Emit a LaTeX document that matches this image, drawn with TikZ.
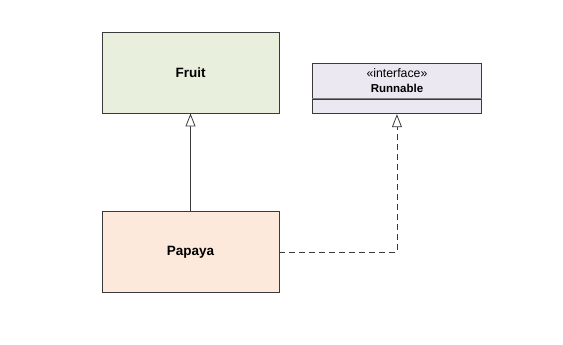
\documentclass[tikz,border=0pt]{standalone}
\usepackage{fontspec}
\setmainfont{Liberation Sans}
\usetikzlibrary{positioning,arrows.meta}

\definecolor{fruitfill}{HTML}{E9EFDD}
\definecolor{papayafill}{HTML}{FCE9DC}
\definecolor{ifacefill}{HTML}{EBE8F1}
\definecolor{umlline}{HTML}{3A3A3A}

\begin{document}
\begin{tikzpicture}[
  x=1pt, y=-1pt,
  cls/.style={draw=umlline,line width=0.9pt,minimum width=177pt,minimum height=81pt,
    font=\fontsize{13.5}{16}\selectfont\bfseries,inner sep=0pt},
  iface/.style={draw=umlline,line width=0.9pt,fill=ifacefill,minimum width=169pt,inner sep=0pt,align=center},
  realize/.style={umlline,line width=0.8pt,dash pattern=on 6pt off 4pt,
    -{Triangle[open,length=13pt,width=10pt,fill=white]}},
  inherit/.style={umlline,line width=0.8pt,-{Triangle[open,length=13pt,width=10pt,fill=white]}},
]
\useasboundingbox (0,0) rectangle (563,345);

% --- classes ---
\node[cls,fill=fruitfill] (fruit) at (190.5,72.5) {Fruit};
\node[cls,fill=papayafill,below=98pt of fruit] (papaya) {Papaya};

% --- interface: name + empty compartment ---
\node[iface,minimum height=34.5pt,anchor=north west] (runnable) at (312,63.3)
  {{\fontsize{12.3}{13}\selectfont «interface»}\\[3pt]{\fontsize{11.5}{13}\selectfont\bfseries Runnable}};
\node[iface,minimum height=14.6pt,below=0pt of runnable] (runops) {};
\draw[gray,line width=1.6pt] (runnable.south west) -- (runnable.south east);

% --- arrows ---
\draw[inherit] (papaya.north) -- (fruit.south);
\draw[realize] (papaya.east) -| (runops.south);

\end{tikzpicture}
\end{document}
